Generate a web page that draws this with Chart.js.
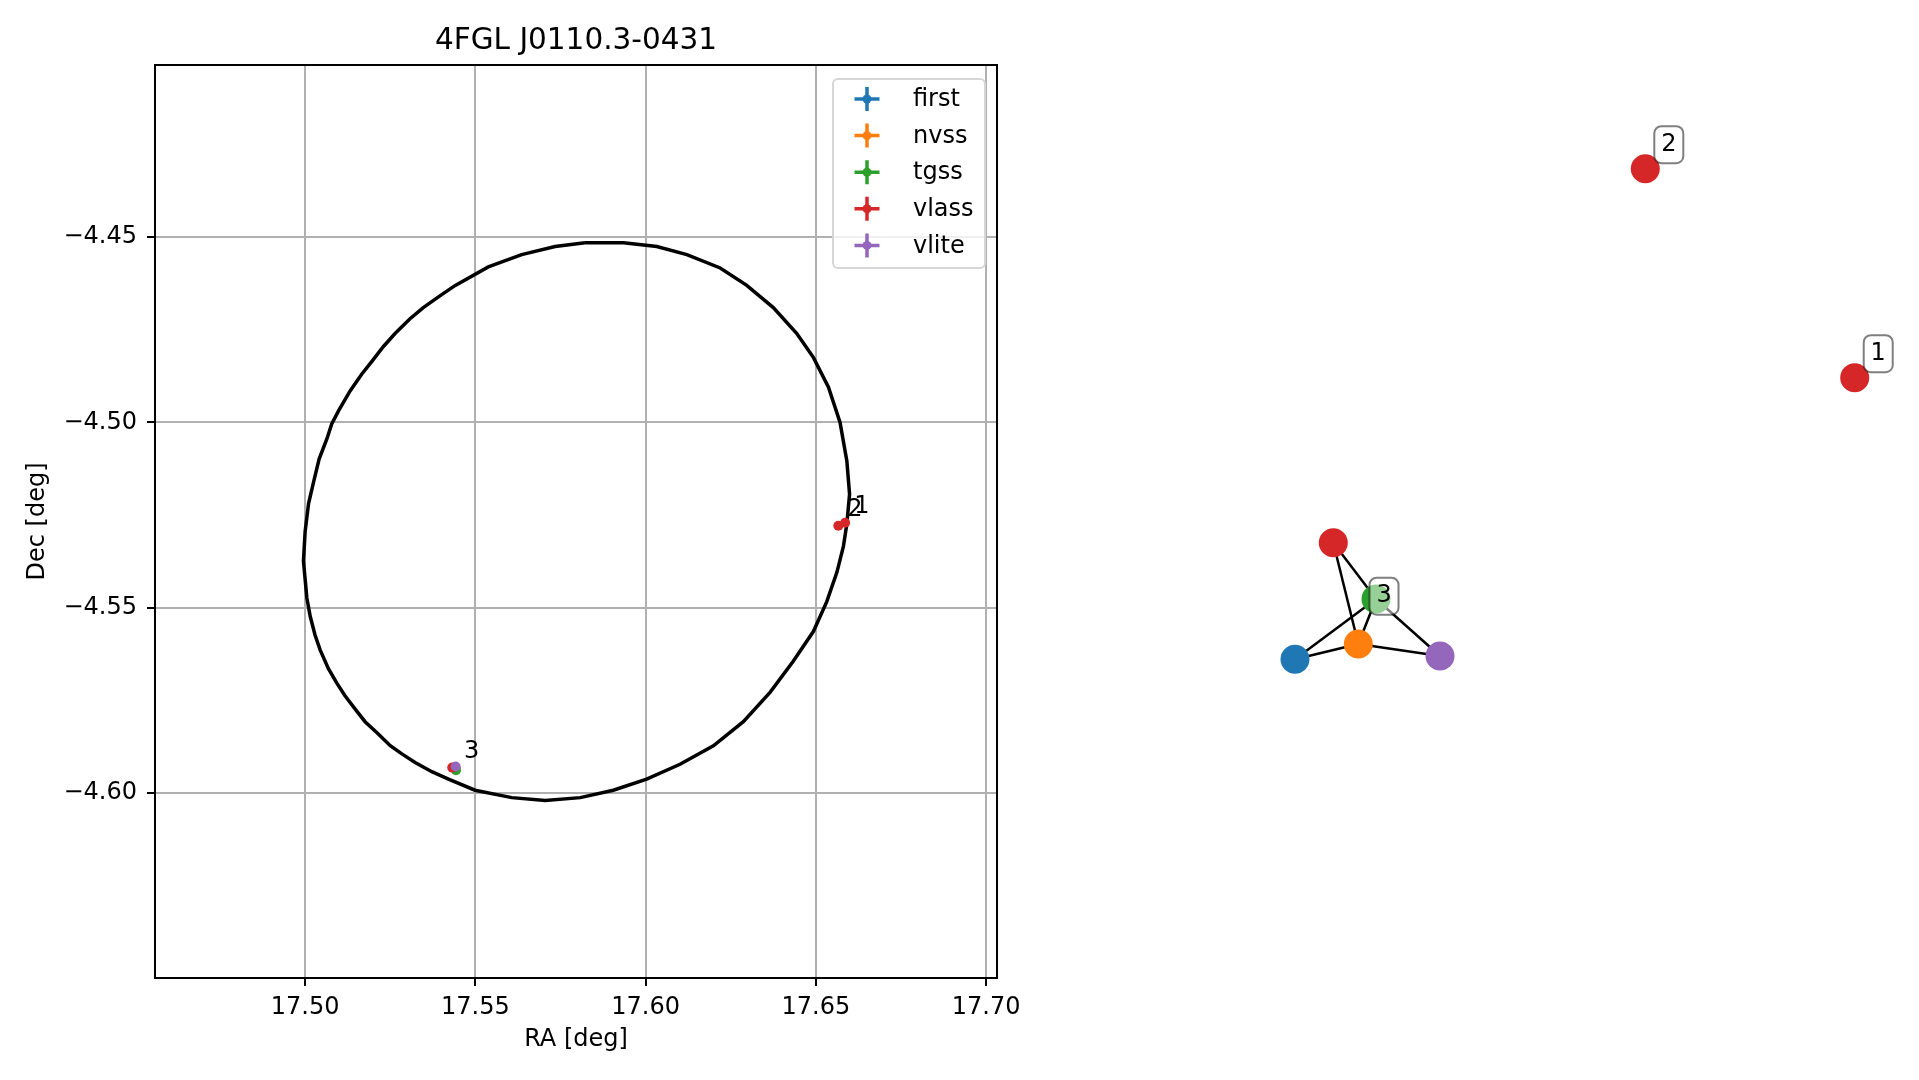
<!DOCTYPE html>
<html>
<head>
<meta charset="utf-8">
<title>4FGL J0110.3-0431</title>
<script src="https://cdn.jsdelivr.net/npm/chart.js@4/dist/chart.umd.min.js"></script>
<style>
  html, body { margin: 0; padding: 0; background: #fff; }
  #wrap { position: relative; width: 1919px; height: 1080px; overflow: hidden; }
  #skyBox { position: absolute; left: 0; top: 0; width: 1020px; height: 1080px; }
  #graphBox { position: absolute; left: 1020px; top: 0; width: 899px; height: 1080px; }
</style>
</head>
<body>
<div id="wrap">
  <div id="skyBox"><canvas id="sky" width="1020" height="1080"></canvas></div>
  <div id="graphBox"><canvas id="graph" width="899" height="1080"></canvas></div>
</div>
<script>
// ---- data ----
const chartTitle = '4FGL J0110.3-0431';
const catalogs = ['first', 'nvss', 'tgss', 'vlass', 'vlite'];
const catColors = ['#1f77b4', '#ff7f0e', '#2ca02c', '#d62728', '#9467bd'];

// radio source positions [deg], one array pair per catalogue
const firstRa = [17.5441];
const firstDec = [-4.5933];
const nvssRa = [17.5442];
const nvssDec = [-4.5934];
const tgssRa = [17.5443];
const tgssDec = [-4.5939];
const vlassRa = [17.6586, 17.6566, 17.5432];
const vlassDec = [-4.5271, -4.5279, -4.5932];
const vliteRa = [17.5442];
const vliteDec = [-4.5929];

// source labels on the sky plot
const srcLabels = ['1', '2', '3'];
const srcRa = [17.6586, 17.6566, 17.5440];
const srcDec = [-4.5271, -4.5279, -4.5932];

// 4FGL error ellipse outline
const ellipseRa = [
  17.5822, 17.5734, 17.5636, 17.5538, 17.5441, 17.5401, 17.5347, 17.5308, 17.5264, 17.5230,
  17.5196, 17.5166, 17.5132, 17.5098, 17.5078, 17.5064, 17.5041, 17.5024, 17.5010, 17.5000,
  17.4995, 17.5005, 17.5015, 17.5029, 17.5044, 17.5068, 17.5093, 17.5117, 17.5147, 17.5176,
  17.5211, 17.5250, 17.5284, 17.5323, 17.5372, 17.5421, 17.5499, 17.5607, 17.5705, 17.5808,
  17.5905, 17.6003, 17.6101, 17.6199, 17.6287, 17.6366, 17.6434, 17.6493, 17.6532, 17.6562,
  17.6581, 17.6591, 17.6599, 17.6591, 17.6571, 17.6537, 17.6493, 17.6444, 17.6375, 17.6297,
  17.6219, 17.6121, 17.6033, 17.5935, 17.5822
];
const ellipseDec = [
  -4.4515, -4.4525, -4.4547, -4.4580, -4.4630, -4.4655, -4.4690, -4.4720, -4.4760, -4.4795,
  -4.4835, -4.4870, -4.4915, -4.4969, -4.5004, -4.5044, -4.5099, -4.5164, -4.5219, -4.5294,
  -4.5374, -4.5474, -4.5524, -4.5574, -4.5614, -4.5664, -4.5704, -4.5738, -4.5774, -4.5808,
  -4.5838, -4.5873, -4.5895, -4.5918, -4.5943, -4.5963, -4.5993, -4.6013, -4.6021, -4.6013,
  -4.5993, -4.5963, -4.5923, -4.5873, -4.5808, -4.5728, -4.5644, -4.5564, -4.5484, -4.5404,
  -4.5334, -4.5274, -4.5194, -4.5104, -4.5000, -4.4905, -4.4825, -4.4760, -4.4690, -4.4630,
  -4.4583, -4.4547, -4.4525, -4.4515, -4.4515
];

const raMin = 17.4559, raMax = 17.7032;
const decMin = -4.6500, decMax = -4.4035;
const raTicks = [17.50, 17.55, 17.60, 17.65, 17.70];
const decTicks = [-4.60, -4.55, -4.50, -4.45];

// association graph (layout coordinates)
const nodeCat = ['vlass', 'vlass', 'vlass', 'first', 'nvss', 'tgss', 'vlite'];
const nodeSrc = ['1', '2', '3', '3', '3', '3', '3'];
const nodeX = [0.8570, 0.3911, -0.3030, -0.3882, -0.2474, -0.2080, -0.0656];
const nodeY = [0.3006, 0.6876, -0.0050, -0.2209, -0.1926, -0.1093, -0.2148];
const edgeFrom = [2, 2, 5, 5, 5, 4, 4];
const edgeTo = [5, 4, 3, 4, 6, 3, 6];

// ---- charts ----
const FONT = "'DejaVu Sans', sans-serif";
Chart.defaults.font.family = FONT;
Chart.defaults.color = '#000';

const catRa = [firstRa, nvssRa, tgssRa, vlassRa, vliteRa];
const catDec = [firstDec, nvssDec, tgssDec, vlassDec, vliteDec];

const catalogSets = catalogs.map((name, i) => ({
  label: name,
  data: catRa[i].map((ra, j) => ({ x: ra, y: catDec[i][j] })),
  backgroundColor: catColors[i],
  borderWidth: 0,
  pointRadius: 5,
  order: catalogs.length - i
}));

const ellipseSet = {
  label: 'ellipse',
  data: ellipseRa.map((ra, i) => ({ x: ra, y: ellipseDec[i] })),
  showLine: true,
  borderColor: '#000',
  borderWidth: 3.5,
  pointRadius: 0,
  tension: 0,
  fill: false,
  order: 10
};

// frame, source numbers and legend
const skyExtras = {
  id: 'skyExtras',
  afterDatasetsDraw(chart) {
    const { ctx, chartArea: a, scales } = chart;
    ctx.save();
    // source numbers
    ctx.font = '24px ' + FONT;
    ctx.fillStyle = '#000';
    ctx.textAlign = 'left';
    ctx.textBaseline = 'alphabetic';
    srcLabels.forEach((t, i) => {
      const px = scales.x.getPixelForValue(srcRa[i]);
      const py = scales.y.getPixelForValue(srcDec[i]);
      ctx.fillText(t, px + 9, py - 10);
    });
    // spines
    ctx.strokeStyle = '#000';
    ctx.lineWidth = 2;
    ctx.strokeRect(a.left, a.top, a.right - a.left, a.bottom - a.top);

    // legend (upper right)
    const w = 152, h = 189;
    const lx = a.right - 12 - w, ly = a.top + 14;
    ctx.beginPath();
    ctx.roundRect(lx, ly, w, h, 5);
    ctx.fillStyle = 'rgba(255,255,255,0.8)';
    ctx.fill();
    ctx.strokeStyle = '#d6d6d6';
    ctx.lineWidth = 2;
    ctx.stroke();
    chart.data.datasets.filter(d => catalogs.includes(d.label)).forEach((d, i) => {
      const cy = ly + 20 + i * 36.6;
      const cx = lx + 34;
      ctx.strokeStyle = d.backgroundColor;
      ctx.fillStyle = d.backgroundColor;
      ctx.lineWidth = 3.5;
      ctx.beginPath();
      ctx.moveTo(cx - 12.5, cy); ctx.lineTo(cx + 12.5, cy);
      ctx.moveTo(cx, cy - 12); ctx.lineTo(cx, cy + 12);
      ctx.stroke();
      ctx.beginPath();
      ctx.arc(cx, cy, 4.5, 0, Math.PI * 2);
      ctx.fill();
      ctx.fillStyle = '#000';
      ctx.textBaseline = 'middle';
      ctx.fillText(d.label, lx + 80, cy + 1);
    });
    ctx.restore();
  }
};

const tickFont = { family: FONT, size: 24 };

new Chart(document.getElementById('sky'), {
  type: 'scatter',
  data: { datasets: [ellipseSet, ...catalogSets] },
  options: {
    responsive: false,
    animation: false,
    events: [],
    layout: { autoPadding: false, padding: { top: 0, right: 23, bottom: 0, left: 0 } },
    plugins: {
      legend: { display: false },
      tooltip: { enabled: false },
      title: {
        display: true,
        fullSize: false,
        text: chartTitle,
        color: '#000',
        font: { family: FONT, size: 29.5, weight: 'normal' },
        padding: { top: 24, bottom: 5.6 }
      }
    },
    scales: {
      x: {
        type: 'linear',
        min: raMin,
        max: raMax,
        afterFit(s) { s.height = 102; s.paddingLeft = 0; s.paddingRight = 0; },
        afterBuildTicks(s) { s.ticks = raTicks.map(v => ({ value: v })); },
        border: { display: false },
        grid: { color: '#b0b0b0', lineWidth: 2, tickLength: 8, tickColor: '#000', tickWidth: 2 },
        ticks: { color: '#000', font: tickFont, padding: 7, maxRotation: 0, autoSkip: false,
                 callback: v => v.toFixed(2) },
        title: { display: true, text: 'RA [deg]', color: '#000', font: tickFont,
                 padding: { top: 0, bottom: 25.6 } }
      },
      y: {
        type: 'linear',
        min: decMin,
        max: decMax,
        afterFit(s) { s.width = 155; s.paddingTop = 0; s.paddingBottom = 0; },
        afterBuildTicks(s) { s.ticks = decTicks.map(v => ({ value: v })); },
        border: { display: false },
        grid: { color: '#b0b0b0', lineWidth: 2, tickLength: 8, tickColor: '#000', tickWidth: 2 },
        ticks: { color: '#000', font: tickFont, padding: 10, autoSkip: false,
                 callback: v => '\u2212' + Math.abs(v).toFixed(2) },
        title: { display: true, text: 'Dec [deg]', color: '#000', font: tickFont,
                 padding: { top: 23.6, bottom: 0 } }
      }
    }
  },
  plugins: [skyExtras]
});

// association graph
const edgeSets = edgeFrom.map((a, i) => ({
  data: [{ x: nodeX[a], y: nodeY[a] }, { x: nodeX[edgeTo[i]], y: nodeY[edgeTo[i]] }],
  showLine: true,
  borderColor: '#000',
  borderWidth: 2.5,
  pointRadius: 0,
  order: 2
}));

const nodeSet = {
  data: nodeX.map((x, i) => ({ x: x, y: nodeY[i] })),
  backgroundColor: nodeCat.map(c => catColors[catalogs.indexOf(c)]),
  borderWidth: 0,
  pointRadius: 14.5,
  order: 1
};

const groupLabels = {
  id: 'groupLabels',
  afterDatasetsDraw(chart) {
    const { ctx, scales } = chart;
    const groups = [...new Set(nodeSrc)];
    ctx.save();
    groups.forEach(g => {
      const idx = nodeSrc.map((s, i) => s === g ? i : -1).filter(i => i >= 0);
      const cx = idx.reduce((s, i) => s + scales.x.getPixelForValue(nodeX[i]), 0) / idx.length;
      const cy = idx.reduce((s, i) => s + scales.y.getPixelForValue(nodeY[i]), 0) / idx.length;
      const bx = cx + 23.5, by = cy - 24;
      ctx.beginPath();
      ctx.roundRect(bx - 14.5, by - 18.5, 29, 37, 7);
      ctx.fillStyle = 'rgba(255,255,255,0.5)';
      ctx.fill();
      ctx.strokeStyle = 'rgba(0,0,0,0.5)';
      ctx.lineWidth = 2;
      ctx.stroke();
      ctx.fillStyle = '#000';
      ctx.font = '24px ' + FONT;
      ctx.textAlign = 'center';
      ctx.textBaseline = 'middle';
      ctx.fillText(g, bx, by);
    });
    ctx.restore();
  }
};

new Chart(document.getElementById('graph'), {
  type: 'scatter',
  data: { datasets: [...edgeSets, nodeSet] },
  options: {
    responsive: false,
    animation: false,
    events: [],
    layout: { autoPadding: false, padding: 0 },
    plugins: { legend: { display: false }, tooltip: { enabled: false } },
    scales: {
      x: { display: false, min: -1, max: 1 },
      y: { display: false, min: -1, max: 1 }
    }
  },
  plugins: [groupLabels]
});
</script>
</body>
</html>
